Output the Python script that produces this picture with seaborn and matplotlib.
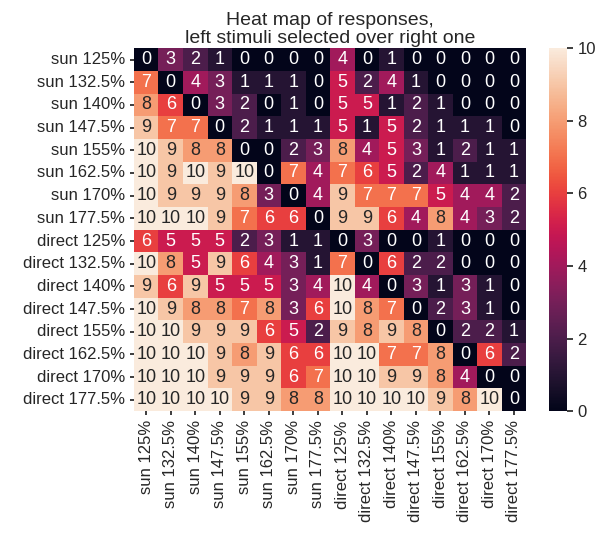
import numpy as np
import pandas as pd
import matplotlib
matplotlib.use("Agg")
import matplotlib.pyplot as plt
import seaborn as sns

labels = ["sun 125%", "sun 132.5%", "sun 140%", "sun 147.5%", "sun 155%",
          "sun 162.5%", "sun 170%", "sun 177.5%", "direct 125%", "direct 132.5%",
          "direct 140%", "direct 147.5%", "direct 155%", "direct 162.5%",
          "direct 170%", "direct 177.5%"]

sun_125 = [0, 3, 2, 1, 0, 0, 0, 0, 4, 0, 1, 0, 0, 0, 0, 0]
sun_132 = [7, 0, 4, 3, 1, 1, 1, 0, 5, 2, 4, 1, 0, 0, 0, 0]
sun_140 = [8, 6, 0, 3, 2, 0, 1, 0, 5, 5, 1, 2, 1, 0, 0, 0]
sun_147 = [9, 7, 7, 0, 2, 1, 1, 1, 5, 1, 5, 2, 1, 1, 1, 0]
sun_155 = [10, 9, 8, 8, 0, 0, 2, 3, 8, 4, 5, 3, 1, 2, 1, 1]
sun_162 = [10, 9, 10, 9, 10, 0, 7, 4, 7, 6, 5, 2, 4, 1, 1, 1]
sun_170 = [10, 9, 9, 9, 8, 3, 0, 4, 9, 7, 7, 7, 5, 4, 4, 2]
sun_177 = [10, 10, 10, 9, 7, 6, 6, 0, 9, 9, 6, 4, 8, 4, 3, 2]
dir_125 = [6, 5, 5, 5, 2, 3, 1, 1, 0, 3, 0, 0, 1, 0, 0, 0]
dir_132 = [10, 8, 5, 9, 6, 4, 3, 1, 7, 0, 6, 2, 2, 0, 0, 0]
dir_140 = [9, 6, 9, 5, 5, 5, 3, 4, 10, 4, 0, 3, 1, 3, 1, 0]
dir_147 = [10, 9, 8, 8, 7, 8, 3, 6, 10, 8, 7, 0, 2, 3, 1, 0]
dir_155 = [10, 10, 9, 9, 9, 6, 5, 2, 9, 8, 9, 8, 0, 2, 2, 1]
dir_162 = [10, 10, 10, 9, 8, 9, 6, 6, 10, 10, 7, 7, 8, 0, 6, 2]
dir_170 = [10, 10, 10, 9, 9, 9, 6, 7, 10, 10, 9, 9, 8, 4, 0, 0]
dir_177 = [10, 10, 10, 10, 9, 9, 8, 8, 10, 10, 10, 10, 9, 8, 10, 0]

rows = [sun_125, sun_132, sun_140, sun_147, sun_155, sun_162, sun_170, sun_177,
        dir_125, dir_132, dir_140, dir_147, dir_155, dir_162, dir_170, dir_177]

df = pd.DataFrame(rows, index=labels, columns=labels)

sns.set_theme(style="ticks")
plt.rcParams['font.family'] = ['Liberation Sans', 'DejaVu Sans']

fig = plt.figure(figsize=(5.98, 5.36), dpi=100)
ax = fig.add_axes([0.224, 0.233, 0.656, 0.677])
cax = fig.add_axes([0.918, 0.233, 0.030, 0.677])
sns.heatmap(df, ax=ax, cbar_ax=cax, annot=True, fmt="d", vmin=0, vmax=10,
            annot_kws={"size": 13})
ax.set_title("Heat map of responses,\nleft stimuli selected over right one",
             fontsize=14, pad=4, linespacing=1.05)
ax.tick_params(axis="both", labelsize=12, length=3)
ax.set_xticklabels(labels, rotation=90)
ax.set_yticklabels(labels, rotation=0)
cax.tick_params(labelsize=12, length=4)
cax.set_yticks([0, 2, 4, 6, 8, 10])
fig.savefig("out.png", dpi=100)
